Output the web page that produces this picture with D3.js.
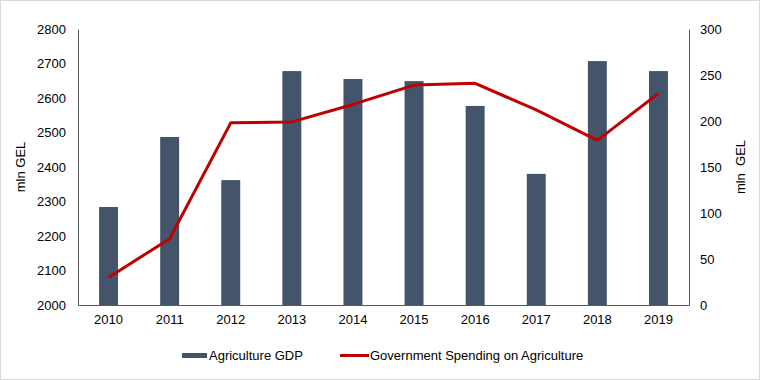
<!DOCTYPE html>
<html><head><meta charset="utf-8">
<script src="https://cdn.jsdelivr.net/npm/d3@7"></script>
<style>body{margin:0;background:#fff}svg{display:block;font-family:"Liberation Sans",Arial,sans-serif}</style>
</head><body><svg id="c" width="760" height="380"></svg>
<script>
const years = ["2010","2011","2012","2013","2014","2015","2016","2017","2018","2019"];
const gdp = [2284, 2487, 2362, 2678, 2655, 2649, 2577, 2380, 2707, 2678];
const spending = [30, 72, 198, 199, 218, 239, 241, 212, 179, 230];
const leftTicks = [2000,2100,2200,2300,2400,2500,2600,2700,2800];
const rightTicks = [0,50,100,150,200,250,300];
const seriesNames = ["Agriculture GDP","Government Spending on Agriculture"];

const svg = d3.select("#c");
const W=760,H=380, L=78, R=689, T=29, B=305;
const barColor="#44546A", lineColor="#C00000", axisColor="#595959", textColor="#000";
const fs = "13px";

svg.append("rect").attr("x",0.5).attr("y",0.5).attr("width",W-1).attr("height",H-1).attr("fill","#fff").attr("stroke","#d9d9d9");

const x = d3.scaleBand().domain(years).range([L,R]).paddingInner(0.69).paddingOuter(0.345);
const yL = d3.scaleLinear().domain([2000,2800]).range([B,T]);
const yR = d3.scaleLinear().domain([0,300]).range([B,T]);

svg.append("g").selectAll("rect").data(years).join("rect")
  .attr("x",d=>x(d)).attr("width",x.bandwidth())
  .attr("y",(d,i)=>yL(gdp[i])).attr("height",(d,i)=>B-yL(gdp[i]))
  .attr("fill",barColor);

const xc = d => x(d)+x.bandwidth()/2;
svg.append("path").datum(spending)
  .attr("d", d3.line().x((d,i)=>xc(years[i])).y(d=>yR(d)))
  .attr("fill","none").attr("stroke",lineColor).attr("stroke-width",3).attr("stroke-linejoin","round");

function styleAxis(g){
  g.select(".domain").attr("stroke",axisColor);
  g.selectAll(".tick line").remove();
  g.selectAll("text").attr("fill",textColor).style("font-size",fs).style("font-family","'Liberation Sans',Arial,sans-serif");
}
svg.append("g").attr("transform",`translate(${L},0)`)
  .call(d3.axisLeft(yL).tickValues(leftTicks).tickSizeOuter(0).tickSize(0).tickPadding(12).tickFormat(d3.format("d")))
  .call(styleAxis);
svg.append("g").attr("transform",`translate(${R},0)`)
  .call(d3.axisRight(yR).tickValues(rightTicks).tickSizeOuter(0).tickSize(0).tickPadding(11).tickFormat(d3.format("d")))
  .call(styleAxis);
svg.append("g").attr("transform",`translate(0,${B})`)
  .call(d3.axisBottom(x).tickSizeOuter(0).tickSize(0).tickPadding(10))
  .call(styleAxis);

svg.append("text").attr("transform",`translate(25,${(T+B)/2}) rotate(-90)`)
  .attr("text-anchor","middle").style("font-size",fs).text("mln GEL");
svg.append("text").attr("transform",`translate(745,${(T+B)/2}) rotate(-90)`)
  .attr("text-anchor","middle").style("font-size",fs).attr("xml:space","preserve").text("mln  GEL");

const lg = svg.append("g");
lg.append("rect").attr("x",182).attr("y",353).attr("width",25).attr("height",5).attr("fill",barColor);
lg.append("text").attr("x",209).attr("y",360).style("font-size",fs).text(seriesNames[0]);
lg.append("line").attr("x1",340).attr("x2",369).attr("y1",355.5).attr("y2",355.5).attr("stroke",lineColor).attr("stroke-width",3);
lg.append("text").attr("x",370).attr("y",360).style("font-size",fs).text(seriesNames[1]);
</script></body></html>
